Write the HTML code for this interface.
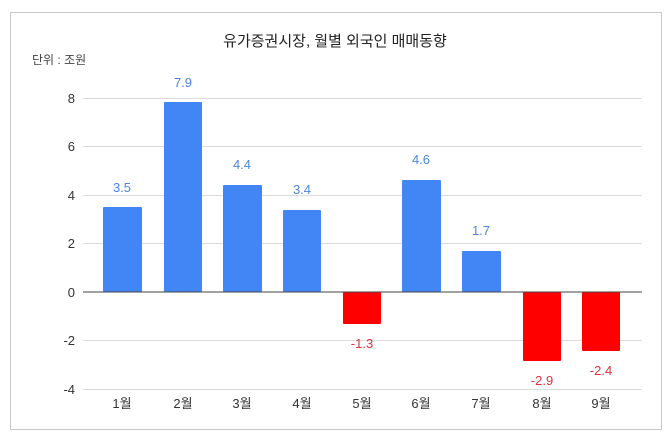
<!DOCTYPE html>
<html><head><meta charset="utf-8"><style>
body{margin:0;background:#fff;}
text{font-family:"Liberation Sans","Noto Sans CJK KR",sans-serif;}
</style></head><body>
<svg width="670" height="439" xmlns="http://www.w3.org/2000/svg">
<rect x="0" y="0" width="670" height="439" fill="#fff"/>
<rect x="10.5" y="12.5" width="651" height="417" fill="#fff" stroke="#c8c8c8" stroke-width="1"/>
<text x="335" y="46" font-size="15" text-anchor="middle" fill="#222">유가증권시장, 월별 외국인 매매동향</text>
<text x="32" y="64" font-size="12" fill="#444">단위 : 조원</text>
<g stroke="#dcdcdc" stroke-width="1">
<line x1="83" x2="642" y1="98.5" y2="98.5"/>
<line x1="83" x2="642" y1="146.5" y2="146.5"/>
<line x1="83" x2="642" y1="195.5" y2="195.5"/>
<line x1="83" x2="642" y1="243.5" y2="243.5"/>
<line x1="83" x2="642" y1="340.5" y2="340.5"/>
<line x1="83" x2="642" y1="389.5" y2="389.5"/>
</g>
<g font-size="13" fill="#333" text-anchor="end">
<text x="75" y="103">8</text><text x="75" y="151">6</text><text x="75" y="200">4</text>
<text x="75" y="248">2</text><text x="75" y="297">0</text><text x="75" y="345">-2</text><text x="75" y="394">-4</text>
</g>
<g fill="#4285f4">
<rect x="103" y="207" width="39" height="85" rx="1"/>
<rect x="164" y="102" width="38" height="190" rx="1"/>
<rect x="223" y="185" width="39" height="107" rx="1"/>
<rect x="283" y="210" width="38" height="82" rx="1"/>
<rect x="402" y="180" width="39" height="112" rx="1"/>
<rect x="462" y="251" width="39" height="41" rx="1"/>
</g>
<g fill="#ff0000">
<rect x="343" y="292" width="38" height="32" rx="1"/>
<rect x="523" y="292" width="38" height="69" rx="1"/>
<rect x="582" y="292" width="38" height="59" rx="1"/>
</g>
<line x1="83" x2="642" y1="292" y2="292" stroke="#444" stroke-width="1"/>
<g font-size="13" fill="#4a86e0" text-anchor="middle">
<text x="122" y="192">3.5</text><text x="183" y="87">7.9</text><text x="242" y="169">4.4</text>
<text x="302" y="194">3.4</text><text x="421" y="164">4.6</text><text x="481" y="235">1.7</text>
</g>
<g font-size="13" fill="#e0303a" text-anchor="middle">
<text x="362" y="348">-1.3</text><text x="542" y="385">-2.9</text><text x="601" y="375">-2.4</text>
</g>
<g font-size="13" fill="#333" text-anchor="middle">
<text x="122" y="408">1월</text><text x="183" y="408">2월</text><text x="242" y="408">3월</text>
<text x="302" y="408">4월</text><text x="362" y="408">5월</text><text x="421" y="408">6월</text>
<text x="481" y="408">7월</text><text x="542" y="408">8월</text><text x="601" y="408">9월</text>
</g>
</svg>
</body></html>
